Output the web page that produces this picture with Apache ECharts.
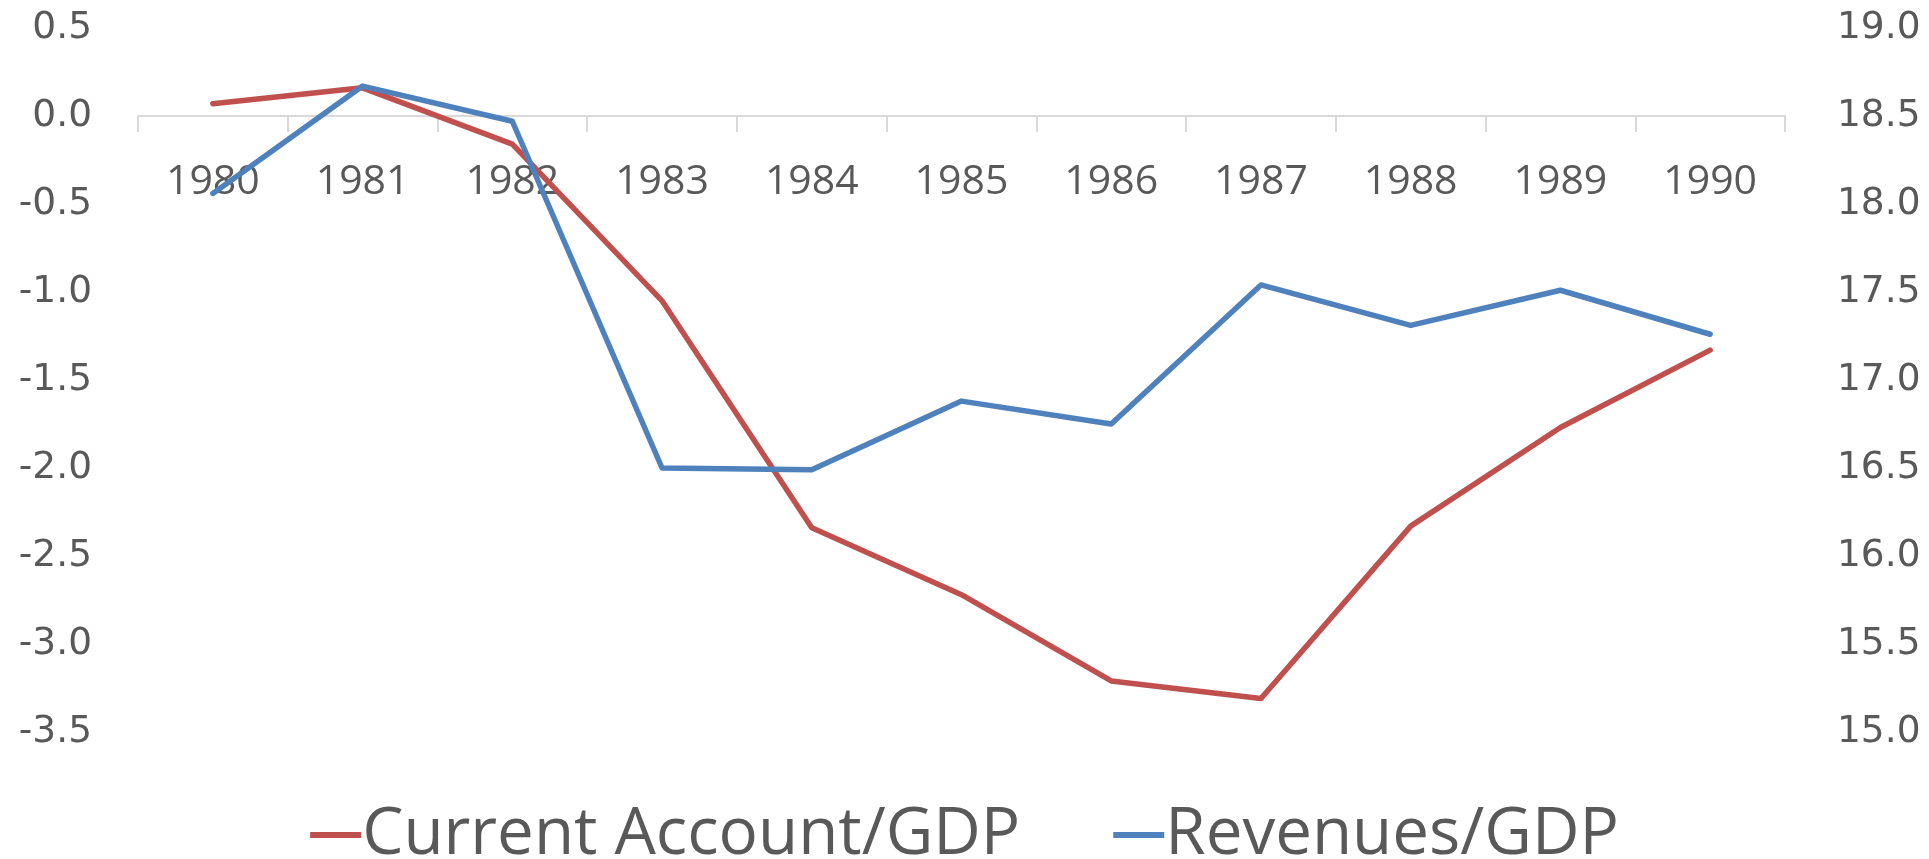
<!DOCTYPE html>
<html>
<head>
<meta charset="utf-8">
<script src="https://cdn.jsdelivr.net/npm/echarts@6/dist/echarts.min.js"></script>
<style>
  html, body { margin: 0; padding: 0; background: #fff; }
  #chart { width: 1929px; height: 859px; }
</style>
</head>
<body>
<div id="chart"></div>
<script>
const years = ['1980', '1981', '1982', '1983', '1984', '1985', '1986', '1987', '1988', '1989', '1990']
const currentAccount = [0.07, 0.16, -0.16, -1.05, -2.34, -2.72, -3.21, -3.31, -2.33, -1.77, -1.33]
const revenues = [18.06, 18.67, 18.47, 16.50, 16.49, 16.88, 16.75, 17.54, 17.31, 17.51, 17.26]

const textColor = '#595959'
const chart = echarts.init(document.getElementById('chart'))

// the category axis sits on the zero line of the left axis (0.5 above, -3.5 below)
const plotHeight = 859 - 28 - 127
const zeroOffset = -plotHeight * 3.5 / 4

const option = {
  animation: false,
  grid: {
    left: 138,
    right: 144,
    top: 28,
    bottom: 127
  },
  legend: {
    bottom: -14,
    left: 'center',
    itemGap: 93,
    itemWidth: 51,
    itemHeight: 6,
    icon: 'rect',
    textStyle: {
      fontFamily: 'Open Sans',
      fontSize: 65.5,
      color: textColor,
      padding: [0, 0, 0, -4]
    },
    data: ['Current Account/GDP', 'Revenues/GDP']
  },
  xAxis: {
    type: 'category',
    data: years,
    boundaryGap: true,
    position: 'bottom',
    offset: zeroOffset,
    axisLine: { onZero: false, lineStyle: { color: '#d9d9d9', width: 2 } },
    axisTick: { show: true, length: 16, lineStyle: { color: '#d9d9d9', width: 2 } },
    axisLabel: {
      interval: 0,
      margin: 46,
      fontFamily: 'Open Sans',
      fontSize: 41,
      color: textColor
    },
    splitLine: { show: false }
  },
  yAxis: [
    {
      type: 'value',
      min: -3.5,
      max: 0.5,
      interval: 0.5,
      axisLine: { show: false },
      axisTick: { show: false },
      splitLine: { show: false },
      axisLabel: {
        margin: 46,
        fontFamily: 'DejaVu Sans',
        fontSize: 37.5,
        color: textColor,
        formatter: v => v.toFixed(1)
      }
    },
    {
      type: 'value',
      min: 15,
      max: 19,
      interval: 0.5,
      axisLine: { show: false },
      axisTick: { show: false },
      splitLine: { show: false },
      axisLabel: {
        margin: 52,
        fontFamily: 'DejaVu Sans',
        fontSize: 37.5,
        color: textColor,
        formatter: v => v.toFixed(1)
      }
    }
  ],
  series: [
    {
      name: 'Current Account/GDP',
      type: 'line',
      yAxisIndex: 0,
      data: currentAccount,
      symbol: 'none',
      z: 3,
      itemStyle: { color: '#C0504D' },
      lineStyle: { color: '#C0504D', width: 5.5, cap: 'round', join: 'round' }
    },
    {
      name: 'Revenues/GDP',
      type: 'line',
      yAxisIndex: 1,
      data: revenues,
      symbol: 'none',
      z: 4,
      itemStyle: { color: '#4F81BD' },
      lineStyle: { color: '#4F81BD', width: 5.5, cap: 'round', join: 'round' }
    }
  ]
}

chart.setOption(option)
</script>
</body>
</html>
